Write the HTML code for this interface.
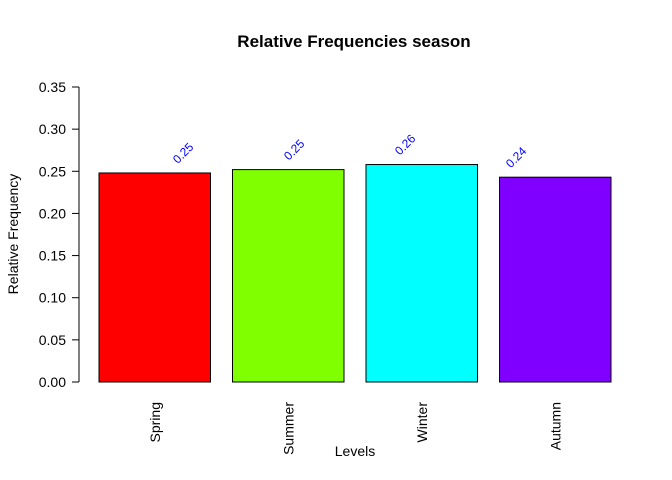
<!DOCTYPE html>
<html><head><meta charset="utf-8"><style>
body{margin:0;background:#fff}
svg{display:block;font-family:"Liberation Sans",Arial,sans-serif}
</style></head><body>
<svg id="chart" width="672" height="480">
<text x="354" y="47" text-anchor="middle" font-size="17" font-weight="bold">Relative Frequencies season</text>
<text transform="translate(18,234) rotate(-90)" text-anchor="middle" font-size="14">Relative Frequency</text>
<text x="355" y="456" text-anchor="middle" font-size="14">Levels</text>
<g id="yaxis"></g>
<g id="bars"></g>
</svg>
<script>
const categories=["Spring","Summer","Winter","Autumn"];
const values=[0.248,0.252,0.258,0.243];
const valueLabels=["0.25","0.25","0.26","0.24"];
const colors=["#FF0000","#80FF00","#00FFFF","#8000FF"];
const ticks=[0,0.05,0.1,0.15,0.2,0.25,0.3,0.35];
const tickLabels=["0.00","0.05","0.10","0.15","0.20","0.25","0.30","0.35"];
const NS="http://www.w3.org/2000/svg";
const y0=382,yTop=87,maxV=0.35;
function y(v){return y0-(v/maxV)*(y0-yTop);}
function bx(i){return 99+i*133.5;}
const bw=111.5;
function mk(t,a,p){const e=document.createElementNS(NS,t);for(const k in a)e.setAttribute(k,a[k]);p.appendChild(e);return e;}
const ya=document.getElementById('yaxis');
const ln=mk('line',{x1:79,x2:79,y1:y(0),y2:y(0.35),stroke:'#000'},ya);


ticks.forEach((t,i)=>{
 const tk=mk('line',{x1:72,x2:79,y1:y(t),y2:y(t),stroke:'#000'},ya);
 
 
 const tx=mk('text',{x:66,y:y(t)+5,'text-anchor':'end','font-size':14},ya);
 tx.textContent=tickLabels[i];
 
 
});
const bg=document.getElementById('bars');
values.forEach((v,i)=>{
 const r=mk('rect',{x:bx(i),y:y(v),width:bw,height:y0-y(v),fill:colors[i],stroke:'#000'},bg);
 
 
 const lx=186+i*111,ly=y(v)-17;
 const t=mk('text',{x:lx,y:ly,'text-anchor':'middle','font-size':12,fill:'#0000FF',transform:`rotate(-45 ${lx} ${ly})`},bg);
 t.textContent=valueLabels[i];
 
 
 const cx=bx(i)+bw/2+5;
 const c=mk('text',{x:cx,y:402,'text-anchor':'end','font-size':14,transform:`rotate(-90 ${cx} 402)`},bg);
 c.textContent=categories[i];
 
 
});
</script>
</body></html>
